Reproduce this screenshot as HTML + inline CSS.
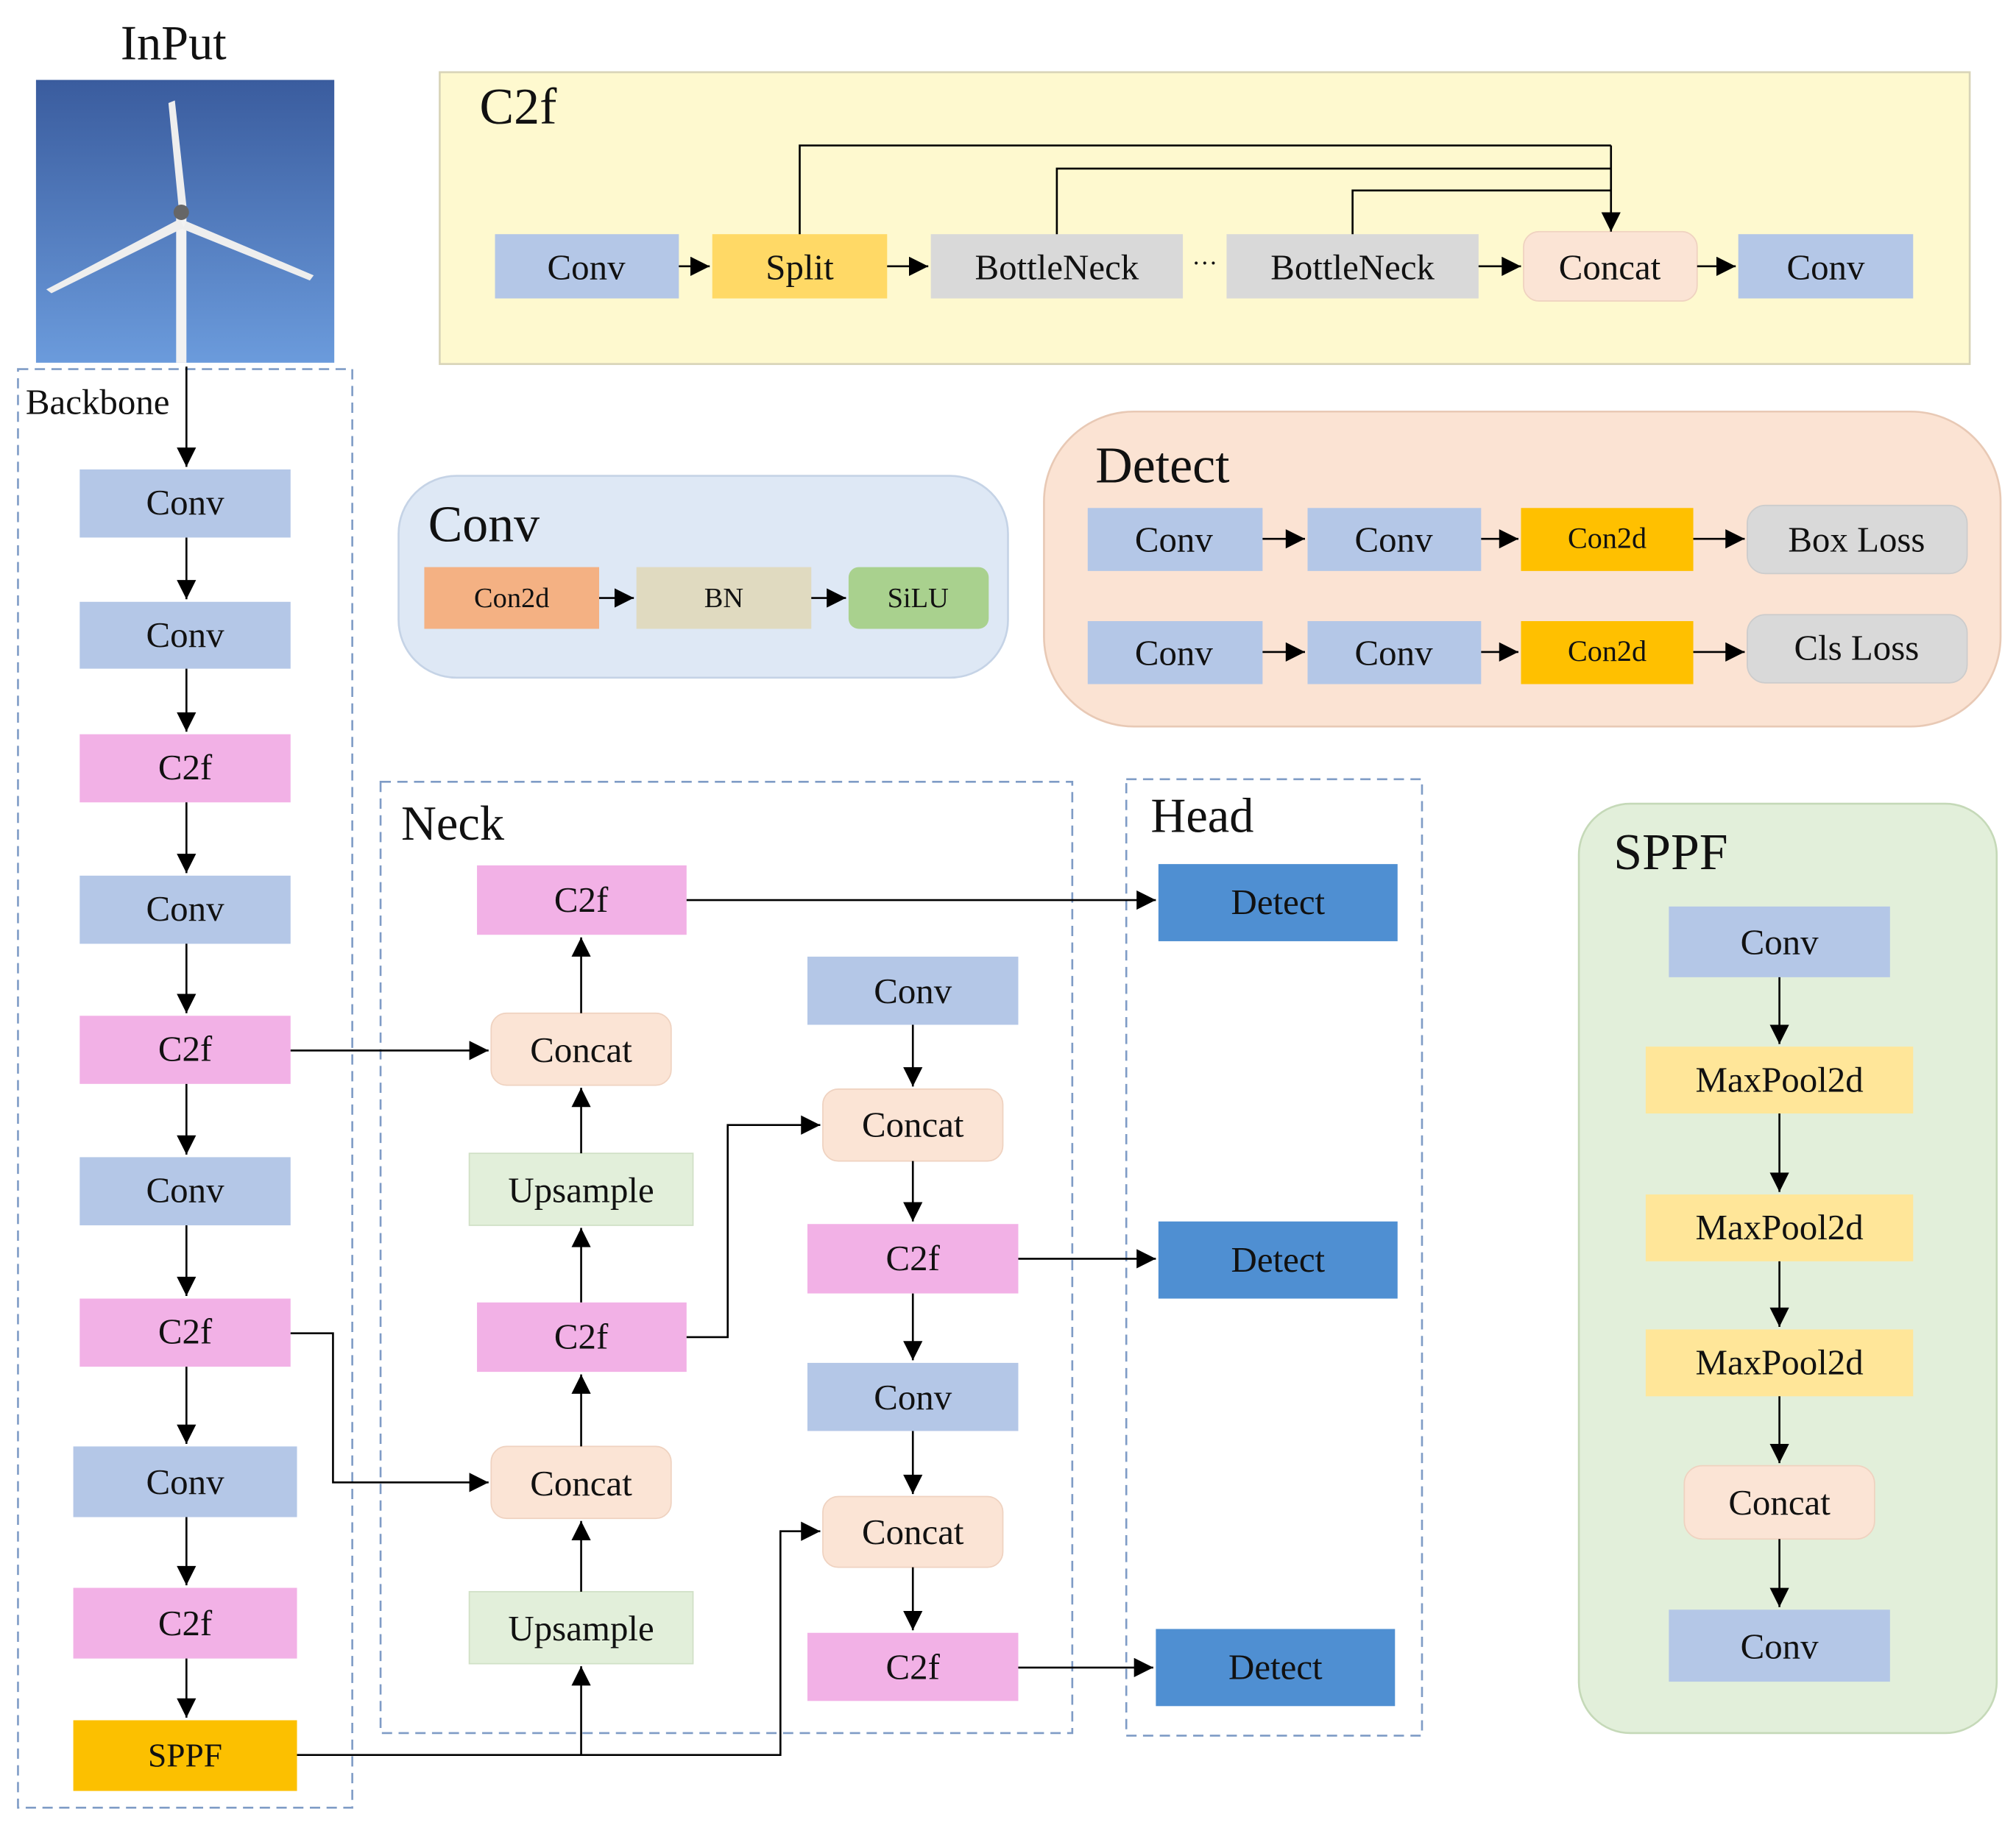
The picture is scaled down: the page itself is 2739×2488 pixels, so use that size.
<!DOCTYPE html>
<html><head><meta charset="utf-8"><style>
html,body{margin:0;padding:0;background:#fff;}
svg{display:block;}
text{font-family:"Liberation Serif",serif;fill:#111;}
</style></head><body>
<svg width="2739" height="2488" viewBox="0 0 1568 1424" xmlns="http://www.w3.org/2000/svg">
<defs>
<marker id="a" viewBox="0 0 10 10" refX="10" refY="5" markerWidth="16" markerHeight="15" markerUnits="userSpaceOnUse" orient="auto"><path d="M0,0 L10,5 L0,10 z" fill="#000"/></marker>
<linearGradient id="sky" x1="0" y1="0" x2="0" y2="1"><stop offset="0" stop-color="#3a5c9e"/><stop offset="1" stop-color="#6b9bdc"/></linearGradient>
</defs>
<!-- Input -->
<text x="135" y="46" font-size="38" text-anchor="middle">InPut</text>
<rect x="28" y="62" width="232" height="220" fill="url(#sky)"/>
<rect x="137" y="165" width="8" height="117" fill="#f2f2f2"/>
<path d="M131,80 L136,78 L145,160 L139,162 z" fill="#eee"/>
<path d="M140,170 L36,225 L40,228 L143,177 z" fill="#eee"/>
<path d="M145,172 L244,214 L241,218 L142,178 z" fill="#eee"/>
<circle cx="141" cy="165" r="6" fill="#666"/>

<!-- C2f block -->
<rect x="342" y="56" width="1190" height="227" fill="#fef9cf" stroke="#d8d4b8" stroke-width="1.5"/>
<text x="373" y="96" font-size="40">C2f</text>
<g font-size="28" text-anchor="middle">
<rect x="385" y="182" width="143" height="50" fill="#b4c7e7"/><text x="456" y="217">Conv</text>
<rect x="554" y="182" width="136" height="50" fill="#ffd966"/><text x="622" y="217">Split</text>
<rect x="724" y="182" width="196" height="50" fill="#d9d9d9"/><text x="822" y="217">BottleNeck</text>
<text x="937" y="211" font-size="20">···</text>
<rect x="954" y="182" width="196" height="50" fill="#d9d9d9"/><text x="1052" y="217">BottleNeck</text>
<rect x="1185" y="180" width="135" height="54" rx="12" fill="#fbe4d5" stroke="#efd2c0"/><text x="1252" y="217">Concat</text>
<rect x="1352" y="182" width="136" height="50" fill="#b4c7e7"/><text x="1420" y="217">Conv</text>
</g>
<g stroke="#000" stroke-width="1.5" fill="none" marker-end="url(#a)">
<path d="M528,207 H552"/><path d="M690,207 H722"/><path d="M1150,207 H1183"/><path d="M1320,207 H1350"/>
<path d="M1253,113 V180"/>
</g>
<g stroke="#000" stroke-width="1.5" fill="none">
<path d="M622,182 V113 H1253"/><path d="M822,182 V131 H1253"/><path d="M1052,182 V148 H1253"/>
</g>

<!-- Conv block -->
<rect x="310" y="370" width="474" height="157" rx="45" fill="#dee8f5" stroke="#c5d3e6" stroke-width="1.5"/>
<text x="333" y="421" font-size="40">Conv</text>
<g font-size="22" text-anchor="middle">
<rect x="330" y="441" width="136" height="48" fill="#f4b183"/><text x="398" y="472">Con2d</text>
<rect x="495" y="441" width="136" height="48" fill="#e0dac0"/><text x="563" y="472">BN</text>
<rect x="660" y="441" width="109" height="48" rx="8" fill="#a9d18e"/><text x="714" y="472">SiLU</text>
</g>
<g stroke="#000" stroke-width="1.5" marker-end="url(#a)"><path d="M466,465 H493"/><path d="M631,465 H658"/></g>

<!-- Detect block -->
<rect x="812" y="320" width="744" height="245" rx="70" fill="#fbe3d3" stroke="#e8c9b5" stroke-width="1.5"/>
<text x="852" y="375" font-size="40">Detect</text>
<g font-size="28" text-anchor="middle">
<rect x="846" y="395" width="136" height="49" fill="#b4c7e7"/><text x="913" y="429">Conv</text>
<rect x="1017" y="395" width="135" height="49" fill="#b4c7e7"/><text x="1084" y="429">Conv</text>
<rect x="1183" y="395" width="134" height="49" fill="#ffc000"/><text x="1250" y="426" font-size="23">Con2d</text>
<rect x="1359" y="393" width="171" height="53" rx="14" fill="#d9d9d9" stroke="#ccc"/><text x="1444" y="429">Box Loss</text>
<rect x="846" y="483" width="136" height="49" fill="#b4c7e7"/><text x="913" y="517">Conv</text>
<rect x="1017" y="483" width="135" height="49" fill="#b4c7e7"/><text x="1084" y="517">Conv</text>
<rect x="1183" y="483" width="134" height="49" fill="#ffc000"/><text x="1250" y="514" font-size="23">Con2d</text>
<rect x="1359" y="478" width="171" height="53" rx="14" fill="#d9d9d9" stroke="#ccc"/><text x="1444" y="513">Cls Loss</text>
</g>
<g stroke="#000" stroke-width="1.5" marker-end="url(#a)">
<path d="M982,419 H1015"/><path d="M1152,419 H1181"/><path d="M1317,419 H1357"/>
<path d="M982,507 H1015"/><path d="M1152,507 H1181"/><path d="M1317,507 H1357"/>
</g>

<!-- dashed containers -->
<g fill="none" stroke="#7f9cc6" stroke-width="1.5" stroke-dasharray="8,5">
<rect x="14" y="287" width="260" height="1119"/>
<rect x="296" y="608" width="538" height="740"/>
<rect x="876" y="606" width="230" height="744"/>
</g>
<text x="20" y="322" font-size="28">Backbone</text>
<text x="312" y="653" font-size="38">Neck</text>
<text x="895" y="647" font-size="38">Head</text>

<!-- SPPF block -->
<rect x="1228" y="625" width="325" height="723" rx="40" fill="#e2efda" stroke="#c5d9b8" stroke-width="1.5"/>
<text x="1255" y="676" font-size="40">SPPF</text>

<g font-size="28" text-anchor="middle">
<rect x="62" y="365" width="164" height="53" fill="#b4c7e7"/><text x="144" y="400">Conv</text>
<rect x="62" y="468" width="164" height="52" fill="#b4c7e7"/><text x="144" y="503">Conv</text>
<rect x="62" y="571" width="164" height="53" fill="#f2b1e6"/><text x="144" y="606">C2f</text>
<rect x="62" y="681" width="164" height="53" fill="#b4c7e7"/><text x="144" y="716">Conv</text>
<rect x="62" y="790" width="164" height="53" fill="#f2b1e6"/><text x="144" y="825">C2f</text>
<rect x="62" y="900" width="164" height="53" fill="#b4c7e7"/><text x="144" y="935">Conv</text>
<rect x="62" y="1010" width="164" height="53" fill="#f2b1e6"/><text x="144" y="1045">C2f</text>
<rect x="57" y="1125" width="174" height="55" fill="#b4c7e7"/><text x="144" y="1162">Conv</text>
<rect x="57" y="1235" width="174" height="55" fill="#f2b1e6"/><text x="144" y="1272">C2f</text>
<rect x="57" y="1338" width="174" height="55" fill="#fcc000"/><text x="144" y="1374" font-size="26">SPPF</text>
<rect x="371" y="673" width="163" height="54" fill="#f2b1e6"/><text x="452" y="709">C2f</text>
<rect x="382" y="788" width="140" height="56" rx="12" fill="#fbe4d5" stroke="#efd2c0"/><text x="452" y="826">Concat</text>
<rect x="365" y="897" width="174" height="56" fill="#e2efda" stroke="#d0e0c6"/><text x="452" y="935">Upsample</text>
<rect x="371" y="1013" width="163" height="54" fill="#f2b1e6"/><text x="452" y="1049">C2f</text>
<rect x="382" y="1125" width="140" height="56" rx="12" fill="#fbe4d5" stroke="#efd2c0"/><text x="452" y="1163">Concat</text>
<rect x="365" y="1238" width="174" height="56" fill="#e2efda" stroke="#d0e0c6"/><text x="452" y="1276">Upsample</text>
<rect x="628" y="744" width="164" height="53" fill="#b4c7e7"/><text x="710" y="780">Conv</text>
<rect x="640" y="847" width="140" height="56" rx="12" fill="#fbe4d5" stroke="#efd2c0"/><text x="710" y="884">Concat</text>
<rect x="628" y="952" width="164" height="54" fill="#f2b1e6"/><text x="710" y="988">C2f</text>
<rect x="628" y="1060" width="164" height="53" fill="#b4c7e7"/><text x="710" y="1096">Conv</text>
<rect x="640" y="1164" width="140" height="55" rx="12" fill="#fbe4d5" stroke="#efd2c0"/><text x="710" y="1201">Concat</text>
<rect x="628" y="1270" width="164" height="53" fill="#f2b1e6"/><text x="710" y="1306">C2f</text>
<rect x="901" y="672" width="186" height="60" fill="#4f8fd2"/><text x="994" y="711">Detect</text>
<rect x="901" y="950" width="186" height="60" fill="#4f8fd2"/><text x="994" y="989">Detect</text>
<rect x="899" y="1267" width="186" height="60" fill="#4f8fd2"/><text x="992" y="1306">Detect</text>
<rect x="1298" y="705" width="172" height="55" fill="#b4c7e7"/><text x="1384" y="742">Conv</text>
<rect x="1280" y="814" width="208" height="52" fill="#ffe699"/><text x="1384" y="849">MaxPool2d</text>
<rect x="1280" y="929" width="208" height="52" fill="#ffe699"/><text x="1384" y="964">MaxPool2d</text>
<rect x="1280" y="1034" width="208" height="52" fill="#ffe699"/><text x="1384" y="1069">MaxPool2d</text>
<rect x="1310" y="1140" width="148" height="57" rx="14" fill="#fbe4d5" stroke="#efd2c0"/><text x="1384" y="1178">Concat</text>
<rect x="1298" y="1252" width="172" height="56" fill="#b4c7e7"/><text x="1384" y="1290">Conv</text>
</g>

<g stroke="#000" stroke-width="1.5" fill="none" marker-end="url(#a)">
<path d="M145,285 V363"/><path d="M145,418 V466"/><path d="M145,520 V569"/><path d="M145,624 V679"/>
<path d="M145,734 V788"/><path d="M145,843 V898"/><path d="M145,953 V1008"/><path d="M145,1063 V1123"/>
<path d="M145,1180 V1233"/><path d="M145,1290 V1336"/>
<path d="M452,788 V729"/><path d="M452,897 V846"/><path d="M452,1013 V955"/><path d="M452,1125 V1069"/><path d="M452,1238 V1183"/>
<path d="M452,1365 V1296"/>
<path d="M710,797 V845"/><path d="M710,903 V950"/><path d="M710,1006 V1058"/><path d="M710,1113 V1162"/><path d="M710,1219 V1268"/>
<path d="M226,817 H380"/>
<path d="M226,1037 H259 V1153 H380"/>
<path d="M534,1040 H566 V875 H638"/>
<path d="M231,1365 H607 V1191 H638"/>
<path d="M534,700 H899"/>
<path d="M792,979 H899"/>
<path d="M792,1297 H897"/>
<path d="M1384,760 V812"/><path d="M1384,866 V927"/><path d="M1384,981 V1032"/><path d="M1384,1086 V1138"/><path d="M1384,1197 V1250"/>
</g>
</svg>
</body></html>
